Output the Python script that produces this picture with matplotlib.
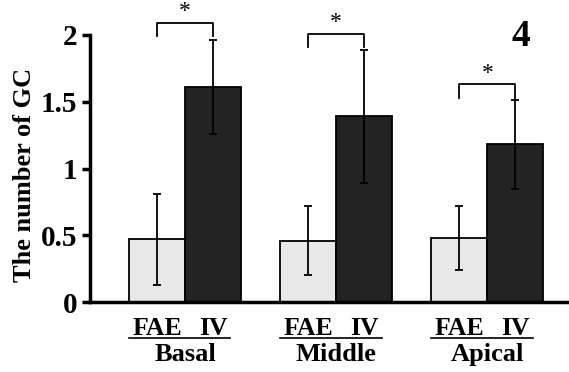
import numpy as np
import matplotlib
matplotlib.use('Agg')
import matplotlib.pyplot as plt

regions = ['Basal', 'Middle', 'Apical']
groups = ['FAE', 'IV']
fae_mean = [0.47, 0.46, 0.48]
fae_err = [0.34, 0.26, 0.24]
iv_mean = [1.61, 1.39, 1.18]
iv_err = [0.35, 0.50, 0.33]
bracket_y = [2.09, 2.01, 1.63]
yticks = [0, 0.5, 1, 1.5, 2]
ytick_labels = ['0', '0.5', '1', '1.5', '2']

plt.rcParams['font.family'] = 'Liberation Serif'
plt.rcParams['font.weight'] = 'bold'

fig = plt.figure(figsize=(5.69, 3.72), dpi=100)
ax = fig.add_axes([0.158, 0.188, 0.842, 0.718])

x = np.arange(len(regions))
w = 0.37
ax.bar(x - w / 2, fae_mean, w, color='#e8e8e8', edgecolor='black', linewidth=1.3)
ax.bar(x + w / 2, iv_mean, w, color='#232323', edgecolor='black', linewidth=1.3)
ax.errorbar(x - w / 2, fae_mean, yerr=fae_err, fmt='none', ecolor='black',
            elinewidth=1.3, capsize=3, capthick=1.3)
ax.errorbar(x + w / 2, iv_mean, yerr=iv_err, fmt='none', ecolor='black',
            elinewidth=1.3, capsize=3, capthick=1.3)

# significance brackets
for i, yb in enumerate(bracket_y):
    ax.plot([x[i] - w / 2, x[i] - w / 2, x[i] + w / 2, x[i] + w / 2],
            [yb - 0.1, yb, yb, yb - 0.1], color='black', lw=1.3, clip_on=False)
    ax.text(x[i], yb + 0.005, '*', ha='center', va='bottom', fontsize=17,
            fontweight='normal', clip_on=False)

ax.set_xlim(-0.63, 2.54)
ax.set_ylim(0, 2)
ax.set_yticks(yticks)
ax.set_yticklabels(ytick_labels, fontsize=21, fontweight='bold')
ax.set_ylabel('The number of GC', fontsize=19, fontweight='bold')
ax.yaxis.set_label_coords(-0.113, 0.476)

ax.set_xticks(np.concatenate([x - w / 2, x + w / 2]))
ax.set_xticklabels(['FAE'] * 3 + ['IV'] * 3, fontsize=18.5, fontweight='bold')
ax.tick_params(axis='x', length=0, pad=11)
ax.tick_params(axis='y', length=6, width=2.5, pad=3)

for s in ['top', 'right']:
    ax.spines[s].set_visible(False)
ax.spines['left'].set_linewidth(2.5)
ax.spines['bottom'].set_linewidth(2.5)

# underline and region names
for i, name in enumerate(regions):
    ax.plot([x[i] - 0.37, x[i] + 0.3], [-0.27, -0.27], color='black', lw=1.2,
            clip_on=False)
    ax.text(x[i], -0.31, name, ha='center', va='top', fontsize=19,
            fontweight='bold')

fig.text(0.915, 0.903, '4', ha='center', va='center', fontsize=27,
         fontweight='bold')

fig.savefig('out.png', dpi=100)
